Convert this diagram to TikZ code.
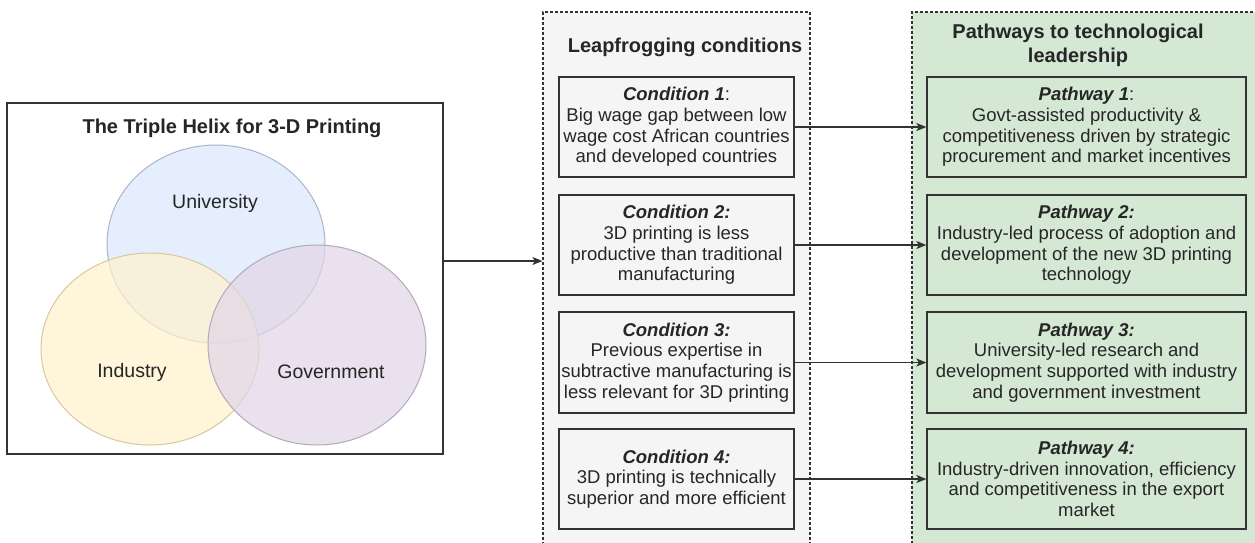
\documentclass[tikz,border=0pt]{standalone}
\usepackage{fontspec}
\setmainfont{Liberation Sans}
\usetikzlibrary{arrows.meta}
\usetikzlibrary{shapes.geometric}

\definecolor{frame}{HTML}{333333}
\definecolor{greyfill}{HTML}{F5F5F5}
\definecolor{greenfill}{HTML}{D5E8D4}
\definecolor{unifill}{HTML}{DAE8FC}
\definecolor{unidraw}{HTML}{A9B6C9}
\definecolor{indfill}{HTML}{FFF2CC}
\definecolor{inddraw}{HTML}{D8C89C}
\definecolor{govfill}{HTML}{E1D5E7}
\definecolor{govdraw}{HTML}{B4A9BC}

\begin{document}
\begin{tikzpicture}[x=1pt,y=-1pt,
  >={Stealth[length=10pt,width=8pt,inset=2.5pt]},
  txt/.style={font=\fontsize{18.5}{20.7}\selectfont, text=black!85, align=center},
  head/.style={font=\fontsize{20}{24}\selectfont\bfseries, text=black!85, align=center},
  circlabel/.style={font=\fontsize{19.5}{22}\selectfont, text=black!85},
  lane/.style={draw=frame, dash pattern=on 3pt off 2pt, line width=1.2pt, inner sep=0pt},
  condbox/.style={txt, draw=frame, line width=1.3pt, fill=greyfill, minimum width=235pt, minimum height=100pt, inner sep=0pt},
  pathbox/.style={txt, draw=frame, line width=1.3pt, fill=greenfill, minimum width=319pt, minimum height=100pt, inner sep=0pt},
  helixcirc/.style={ellipse, minimum width=218pt, inner sep=0pt, fill opacity=0.7, line width=1pt},
  link/.style={->, draw=frame, line width=1.3pt}]
\useasboundingbox (0,0) rectangle (1255,542);
\clip (0,0) rectangle (1255,542);

% the two dashed lanes
\node[lane, fill=greyfill, minimum width=267pt, minimum height=536pt] (lcond) at (676.5,280) {};
\node[lane, fill=greenfill, minimum width=350pt, minimum height=536pt] (rpath) at (1087,280) {};
\node[head] (condtitle) at (685,47) {Leapfrogging conditions};
\node[head] (pathtitle) at (1078,45) {Pathways to technological\\leadership};

% triple helix
\node[draw=frame, line width=1.5pt, fill=white, minimum width=436pt, minimum height=351pt, inner sep=0pt] (helix) at (225,278.5) {};
\node[head] (helixtitle) at (232,128) {The Triple Helix for 3-D Printing};
\node[helixcirc, fill=unifill, draw=unidraw, minimum height=198pt] (uni) at (216,244) {};
\node[helixcirc, fill=indfill, draw=inddraw, minimum height=192pt] (ind) at (150,349) {};
\node[helixcirc, fill=govfill, draw=govdraw, minimum height=200pt] (gov) at (317,345) {};
\node[circlabel] (unilab) at (215,203) {University};
\node[circlabel] (indlab) at (132,372) {Industry};
\node[circlabel] (govlab) at (331,372) {Government};

\draw[link] ([yshift=17.5pt]helix.east) -- ([yshift=17.5pt]helix.east -| lcond.west);

% conditions
\node[condbox] (cond1) at (676.5,127) {\textbf{\textit{Condition 1}}:\\Big wage gap between low\\wage cost African countries\\and developed countries};
\node[condbox] (cond2) at (676.5,245) {\textbf{\textit{Condition 2:}}\\3D printing is less\\productive than traditional\\manufacturing};
\node[condbox, minimum height=101pt] (cond3) at (676.5,362.5) {\textbf{\textit{Condition 3:}}\\Previous expertise in\\subtractive manufacturing is\\less relevant for 3D printing};
\node[condbox] (cond4) at (676.5,479) {\textbf{\textit{Condition 4:}}\\3D printing is technically\\superior and more efficient};

% pathways
\node[pathbox] (path1) at (1086.5,127) {\textbf{\textit{Pathway 1}}:\\Govt-assisted productivity \&\\competitiveness driven by strategic\\procurement and market incentives};
\node[pathbox] (path2) at (1086.5,245) {\textbf{\textit{Pathway 2:}}\\Industry-led process of adoption and\\development of the new 3D printing\\technology};
\node[pathbox, minimum height=101pt] (path3) at (1086.5,362.5) {\textbf{\textit{Pathway 3:}}\\University-led research and\\development supported with industry\\and government investment};
\node[pathbox] (path4) at (1086.5,479) {\textbf{\textit{Pathway 4:}}\\Industry-driven innovation, efficiency\\and competitiveness in the export\\market};

\draw[link] (cond1) -- (path1);
\draw[link] (cond2) -- (path2);
\draw[link] (cond3) -- (path3);
\draw[link] (cond4) -- (path4);
\end{tikzpicture}
\end{document}
